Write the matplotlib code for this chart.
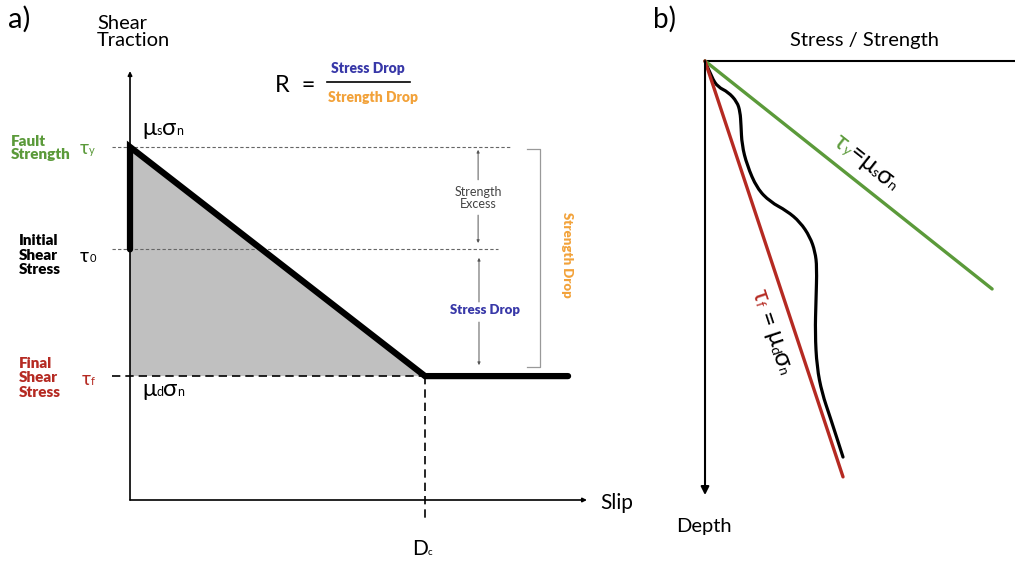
import numpy as np
import matplotlib
matplotlib.use('Agg')
import matplotlib.pyplot as plt
import matplotlib.transforms as mtransforms
from matplotlib.font_manager import FontProperties
from matplotlib.textpath import TextToPath
from matplotlib.path import Path
from matplotlib.patches import PathPatch

FAM = ['Lato', 'DejaVu Sans']
plt.rcParams['font.family'] = FAM

GREEN = '#5b9a3a'
RED = '#b52a22'
BLUE = '#3838a8'
ORANGE = '#f2a23a'
THIN = 'normal'
HEAVY = 'heavy'

# panel a: slip weakening law (slip in units of Dc, traction in units of tau_y)
tau_y = 1.0
tau_0 = 0.71
tau_f = 0.351
d_c = 1.0
slip_end = 1.485

curve_slip = [0.0, 0.0, d_c, slip_end]
curve_tau = [tau_0, tau_y, tau_f, tau_f]

# panel b: stress / strength with depth
strength_stress = [0.0, 0.957]
strength_depth = [0.0, 0.552]
friction_stress = [0.0, 0.460]
friction_depth = [0.0, 1.007]
stress_x = [0.0, 0.023, 0.043, 0.077, 0.107, 0.117, 0.120, 0.123, 0.140, 0.173, 0.217,
            0.273, 0.317, 0.350, 0.367, 0.373, 0.370, 0.367, 0.373, 0.390, 0.417, 0.460]
stress_z = [0.0, 0.041, 0.063, 0.075, 0.099, 0.123, 0.155, 0.203, 0.252, 0.308, 0.341,
            0.363, 0.390, 0.426, 0.462, 0.499, 0.579, 0.659, 0.741, 0.804, 0.862, 0.959]

t2p = TextToPath()


def rich_text(ax, x, y, parts, angle=0.0, ha='left'):
    """Texto con partes de distinto tamano/color, alineadas en la linea base."""
    props = [FontProperties(family=FAM, size=p[1], weight=p[3]) for p in parts]
    widths = [t2p.get_text_width_height_descent(p[0], fp, ismath=False)[0]
              for p, fp in zip(parts, props)]
    pos = -sum(widths) / 2 if ha == 'center' else 0.0
    ca, sa = np.cos(np.radians(angle)), np.sin(np.radians(angle))
    for p, fp, w in zip(parts, props, widths):
        tr = mtransforms.offset_copy(ax.transData, fig=ax.figure,
                                     x=pos * ca, y=pos * sa, units='points')
        ax.text(x, y, p[0], transform=tr, fontproperties=fp, color=p[2],
                rotation=angle, rotation_mode='anchor', ha='left', va='baseline')
        pos += w


def arrow(ax, tail, head, color='k', lw=1.0, ms=6):
    ax.annotate('', xy=head, xytext=tail,
                arrowprops=dict(arrowstyle='-|>', color=color, lw=lw,
                                mutation_scale=ms, shrinkA=0, shrinkB=0))


def screen_angle(ax, xs, ys):
    p = ax.transData.transform(np.column_stack([xs, ys]))
    return np.degrees(np.arctan2(p[1, 1] - p[0, 1], p[1, 0] - p[0, 0]))


def smooth_path(xs, ys):
    """Curva suave: los puntos leidos hacen de puntos de control (Bezier cuadratica)."""
    pts = np.column_stack([xs, ys])
    verts = [pts[0]]
    codes = [Path.MOVETO]
    for i in range(1, len(pts) - 1):
        verts += [pts[i], (pts[i] + pts[i + 1]) / 2]
        codes += [Path.CURVE3, Path.CURVE3]
    verts.append(pts[-1])
    codes.append(Path.LINETO)
    return Path(verts, codes)


fig = plt.figure(figsize=(10.15, 5.61), dpi=100)

# ---------------- panel a ----------------
ax = fig.add_axes([0, 0, 640 / 1015, 1])
ax.set_xlim(-0.4407, 1.7288)
ax.set_ylim(-0.1728, 1.4164)
ax.axis('off')

ax.fill([0, d_c, 0], [tau_y, tau_f, tau_f], color='#c0c0c0', lw=0, zorder=1)

ax.plot([-0.061, 1.288], [tau_y, tau_y], color='#666666', lw=0.8, dashes=(3, 2), zorder=2)
ax.plot([-0.061, 1.247], [tau_0, tau_0], color='#666666', lw=0.8, dashes=(3, 2), zorder=2)
ax.plot([-0.061, d_c], [tau_f, tau_f], color='k', lw=1.2, dashes=(5, 3), zorder=2)
ax.plot([d_c, d_c], [tau_f, -0.057], color='k', lw=1.2, dashes=(5, 3), zorder=2)

arrow(ax, (0, 0), (0, 1.215), lw=1.2, ms=6)
arrow(ax, (0, 0), (1.549, 0), lw=1.2, ms=6)

ax.plot(curve_slip, curve_tau, color='k', lw=4.5, solid_capstyle='round',
        solid_joinstyle='miter', zorder=4)

# flechas de exceso de resistencia y caida de esfuerzo
arrow(ax, (1.18, 0.907), (1.18, 0.992), color='#555555', lw=0.7, ms=4)
arrow(ax, (1.18, 0.807), (1.18, 0.728), color='#555555', lw=0.7, ms=4)
ax.text(1.18, 0.856, 'Strength\nExcess', ha='center', va='center', fontsize=9,
        fontweight=THIN, color='#444444', linespacing=1.0)
arrow(ax, (1.183, 0.561), (1.183, 0.686), color='#555555', lw=0.7, ms=4)
arrow(ax, (1.183, 0.504), (1.183, 0.382), color='#555555', lw=0.7, ms=4)
ax.text(1.203, 0.538, 'Stress Drop', ha='center', va='center', fontsize=9.5,
        fontweight=HEAVY, color=BLUE)

ax.plot([1.346, 1.39, 1.39, 1.346], [0.994, 0.994, 0.377, 0.377], color='#999999', lw=0.9)
ax.text(1.481, 0.694, 'Strength Drop', rotation=-90, ha='center', va='center',
        fontsize=9.5, fontweight=HEAVY, color=ORANGE)

# textos
ax.text(-0.414, 1.337, 'a)', fontsize=21, fontweight=THIN, ha='left', va='baseline')
ax.text(-0.112, 1.326, 'Shear\nTraction', fontsize=14.5, fontweight=THIN,
        ha='left', va='center', linespacing=1.05)
ax.text(-0.405, 0.997, 'Fault\nStrength', fontsize=11, fontweight=HEAVY, color=GREEN,
        ha='left', va='center', linespacing=1.05)
ax.text(-0.378, 0.694, 'Initial\nShear\nStress', fontsize=11, fontweight=HEAVY,
        color='k', ha='left', va='center', linespacing=1.12)
ax.text(-0.378, 0.346, 'Final\nShear\nStress', fontsize=11, fontweight=HEAVY,
        color=RED, ha='left', va='center', linespacing=1.12)

rich_text(ax, -0.169, 0.980, [('τ', 14, GREEN, THIN), ('y', 8, GREEN, THIN)])
rich_text(ax, -0.169, 0.674, [('τ', 14, 'k', THIN), ('0', 8, 'k', THIN)])
rich_text(ax, -0.163, 0.326, [('τ', 14, RED, THIN), ('f', 8, RED, THIN)])
rich_text(ax, 0.041, 1.034, [('μ', 17, 'k', THIN), ('s', 9, 'k', THIN),
                            ('σ', 17, 'k', THIN), ('n', 9, 'k', THIN)])
rich_text(ax, 0.041, 0.295, [('μ', 17, 'k', THIN), ('d', 9, 'k', THIN),
                            ('σ', 17, 'k', THIN), ('n', 9, 'k', THIN)])

ax.text(0.492, 1.156, 'R  =', fontsize=17, fontweight=THIN, ha='left', va='baseline')
ax.plot([0.668, 0.949], [1.184, 1.184], color='k', lw=1.2)
ax.text(0.806, 1.21, 'Stress Drop', fontsize=10, fontweight=HEAVY, color=BLUE,
        ha='center', va='baseline')
ax.text(0.824, 1.127, 'Strength Drop', fontsize=10, fontweight=HEAVY, color=ORANGE,
        ha='center', va='baseline')

ax.text(1.593, -0.0085, 'Slip', fontsize=15, fontweight=THIN, ha='left', va='center')
rich_text(ax, 0.956, -0.156, [('D', 15, 'k', THIN), ('c', 7, 'k', THIN)])

# ---------------- panel b ----------------
bx = fig.add_axes([640 / 1015, 0, 375 / 1015, 1])
bx.set_xlim(-0.2167, 1.0333)
bx.set_ylim(1.2107, -0.1477)
bx.axis('off')

bx.plot([0, 1.0333], [0, 0], color='k', lw=1.5)
arrow(bx, (0, 0), (0, 1.051), lw=1.5, ms=12)

bx.plot(strength_stress, strength_depth, color=GREEN, lw=2.4, solid_capstyle='round')
bx.plot(friction_stress, friction_depth, color=RED, lw=2.4, solid_capstyle='round')
bx.add_patch(PathPatch(smooth_path(stress_x, stress_z), facecolor='none',
                       edgecolor='k', lw=2.3, capstyle='round', joinstyle='round'))

bx.text(-0.173, -0.080, 'b)', fontsize=20, fontweight=THIN, ha='left', va='baseline')
bx.text(0.53, -0.036, 'Stress / Strength', fontsize=14.5, fontweight=THIN,
        ha='center', va='baseline')
bx.text(-0.003, 1.140, 'Depth', fontsize=14.5, fontweight=THIN,
        ha='center', va='baseline')

ang_g = screen_angle(bx, strength_stress, strength_depth)
rich_text(bx, 0.522, 0.260, [('τ', 18, GREEN, THIN), ('y', 10, GREEN, THIN),
                             ('=', 18, 'k', THIN), ('μ', 18, 'k', THIN),
                             ('s', 10, 'k', THIN), ('σ', 18, 'k', THIN),
                             ('n', 10, 'k', THIN)], angle=ang_g, ha='center')
ang_r = screen_angle(bx, friction_stress, friction_depth)
rich_text(bx, 0.201, 0.662, [('τ', 18, RED, THIN), ('f', 10, RED, THIN),
                             (' = ', 18, 'k', THIN), ('μ', 18, 'k', THIN),
                             ('d', 10, 'k', THIN), ('σ', 18, 'k', THIN),
                             ('n', 10, 'k', THIN)], angle=ang_r, ha='center')

fig.savefig('out.png', dpi=100)
